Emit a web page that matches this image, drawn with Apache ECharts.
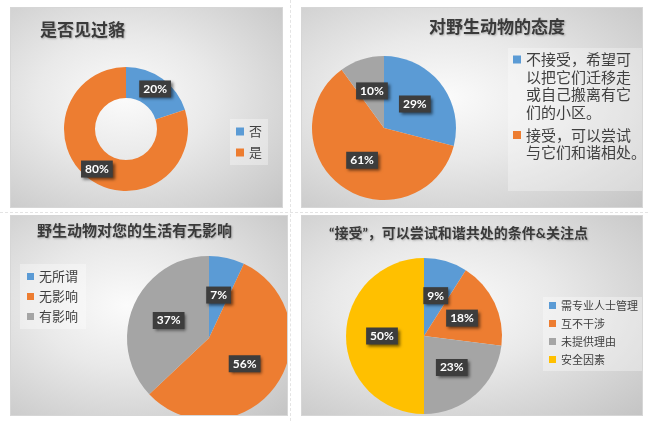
<!DOCTYPE html>
<html><head><meta charset="utf-8">
<script src="https://cdn.jsdelivr.net/npm/echarts/dist/echarts.min.js"></script>
<style>
html,body{margin:0;padding:0;background:#fff;width:648px;height:421px;overflow:hidden;position:relative;}
.panel{position:absolute;box-sizing:border-box;border:1px solid #d6d6d6;
 background:radial-gradient(ellipse farthest-corner at 42% 45%, #fbfbfb 0%, #e9e9e9 40%, #c4c4c4 100%);}
.vline{position:absolute;left:290px;top:0;height:421px;border-left:1px dashed #e4e4e4;}
.hline{position:absolute;left:0;top:212px;width:648px;border-top:1px dashed #e4e4e4;}
</style></head>
<body>
<div class="vline"></div><div class="hline"></div>
<div id="c1" class="panel" style="left:10px;top:7px;width:273px;height:201px;"></div>
<div id="c2" class="panel" style="left:301px;top:7px;width:342px;height:201px;"></div>
<div id="c3" class="panel" style="left:10px;top:215px;width:278px;height:201px;"></div>
<div id="c4" class="panel" style="left:301px;top:215px;width:342px;height:201px;"></div>
<script>
// ---- data ----
const title1 = '是否见过貉';
const cats1 = ['否', '是'];
const vals1 = [20, 80];

const title2 = '对野生动物的态度';
const cats2 = ['不接受，希望可\n以把它们迁移走\n或自己搬离有它\n们的小区。', '接受，可以尝试\n与它们和谐相处。', ''];
const vals2 = [29, 61, 10];

const title3 = '野生动物对您的生活有无影响';
const cats3 = ['无所谓', '无影响', '有影响'];
const vals3 = [7, 56, 37];

const title4 = '“接受”，可以尝试和谐共处的条件&关注点';
const cats4 = ['需专业人士管理', '互不干涉', '未提供理由', '安全因素'];
const vals4 = [9, 18, 23, 50];

// ---- style ----
const palette = ['#5B9BD5', '#ED7D31', '#A5A5A5', '#FFC000'];
const CJK = '"Noto Sans CJK SC", "Microsoft YaHei", sans-serif';
const MIX = 'Lato, "Noto Sans CJK SC", sans-serif';
const NUM = 'Lato, "Open Sans", sans-serif';
const titleStyle = (fs, ff) => ({fontSize: fs, fontWeight: 'bold', color: '#3a3a3a', fontFamily: ff || CJK,
  textShadowColor: 'rgba(0,0,0,0.25)', textShadowBlur: 2, textShadowOffsetX: 1, textShadowOffsetY: 1});
const labelStyle = {show: true, position: 'inside', formatter: '{c}%', color: '#fff', fontSize: 12,
  fontWeight: 'bold', fontFamily: NUM, backgroundColor: '#3d3d3d', padding: [3, 4, 2, 4],
  shadowColor: 'rgba(0,0,0,0.55)', shadowBlur: 3, shadowOffsetX: 2, shadowOffsetY: 2};
const toData = (cats, vals) => cats.map((n, i) => ({name: n, value: vals[i]}));
function pieSeries(cats, vals, center, radius) {
  return {type: 'pie', center: center, radius: radius, startAngle: 90, clockwise: true,
    data: toData(cats, vals), label: labelStyle, labelLine: {show: false},
    emphasis: {disabled: true}, silent: true, animation: false};
}

// ---- chart 1 ----
echarts.init(document.getElementById('c1')).setOption({
  color: palette, animation: false,
  title: {text: title1, left: 29, top: 13, padding: 0, textStyle: titleStyle(17)},
  legend: {orient: 'vertical', left: 219, top: 111, padding: [6, 6, 6, 6], selectedMode: false,
    backgroundColor: 'rgba(255,255,255,0.35)', itemWidth: 8, itemHeight: 8, itemGap: 8, icon: 'rect',
    textStyle: {fontSize: 13, color: '#404040', fontFamily: CJK}, data: cats1},
  series: [pieSeries(cats1, vals1, [115, 121], [31, 62])]
});

// ---- chart 2 ----
const rich2 = {t: {fontSize: 15, lineHeight: 17.5, color: '#404040', fontFamily: CJK, padding: [0, 0, 0, 5]},
  sp: {width: 8, height: 8}};
cats2.forEach((n, i) => { rich2['i' + i] = {width: 8, height: 8, backgroundColor: palette[i]}; });
echarts.init(document.getElementById('c2')).setOption({
  color: palette, animation: false,
  title: {text: title2, left: 127, top: 10, padding: 0, textStyle: titleStyle(17)},
  legend: {orient: 'vertical', left: 206, top: 40, padding: [4, 2, 31, 0], selectedMode: false,
    backgroundColor: 'rgba(255,255,255,0.3)', itemWidth: 0, itemHeight: 14, itemGap: 8,
    itemStyle: {opacity: 0}, data: [cats2[0], cats2[1]],
    formatter: function (name) {
      const idx = cats2.indexOf(name);
      return name.split('\n').map((l, k) => (k === 0 ? '{i' + idx + '|}' : '{sp|}') + '{t|' + l + '}').join('\n');
    },
    textStyle: {rich: rich2}},
  series: [pieSeries(cats2, vals2, [82, 120], [0, 72])]
});

// ---- chart 3 ----
echarts.init(document.getElementById('c3')).setOption({
  color: palette, animation: false,
  title: {text: title3, left: 26, top: 7, padding: 0, textStyle: titleStyle(15)},
  legend: {orient: 'vertical', left: 9, top: 48, padding: [6, 8, 6, 7], selectedMode: false,
    backgroundColor: 'rgba(255,255,255,0.35)', itemWidth: 7, itemHeight: 7, itemGap: 7, icon: 'rect',
    textStyle: {fontSize: 13, color: '#404040', fontFamily: CJK}, data: cats3},
  series: [pieSeries(cats3, vals3, [198, 122], [0, 82])]
});

// ---- chart 4 ----
echarts.init(document.getElementById('c4')).setOption({
  color: palette, animation: false,
  title: {text: title4, left: 27, top: 10, padding: 0, textStyle: titleStyle(14, MIX)},
  legend: {orient: 'vertical', left: 241, top: 81, padding: [3, 6, 6, 6], selectedMode: false,
    backgroundColor: 'rgba(255,255,255,0.35)', itemWidth: 7, itemHeight: 7, itemGap: 7, icon: 'rect',
    textStyle: {fontSize: 11, color: '#404040', fontFamily: CJK}, data: cats4},
  series: [pieSeries(cats4, vals4, [122, 120], [0, 78])]
});
</script>
</body></html>
